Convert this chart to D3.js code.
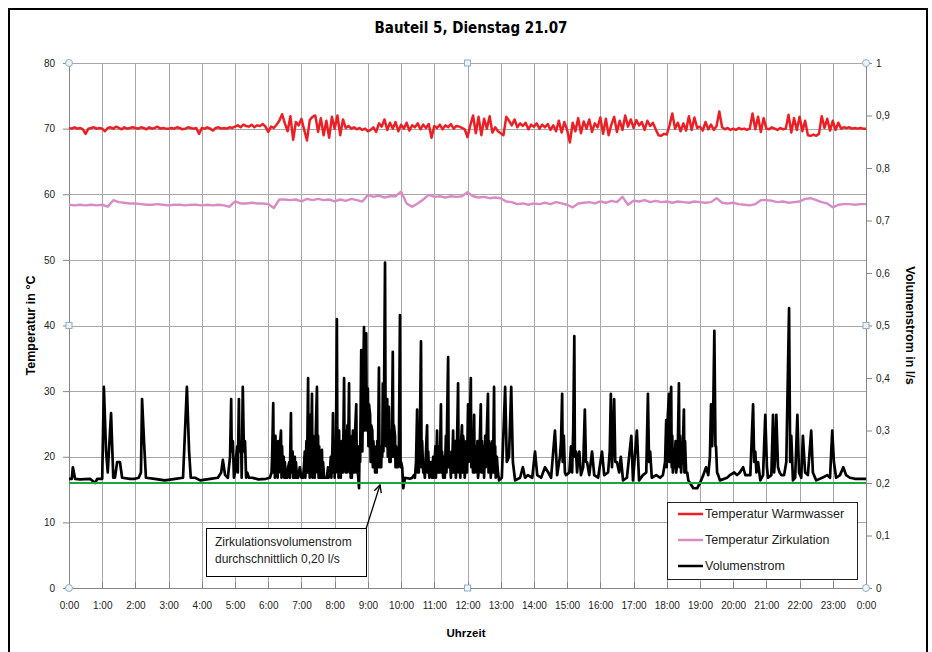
<!DOCTYPE html>
<html>
<head>
<meta charset="utf-8">
<script src="https://cdn.jsdelivr.net/npm/d3@7"></script>
<style>
  body { margin: 0; background: #fff; }
  text { font-family: "Liberation Sans", Arial, sans-serif; }
</style>
</head>
<body>
<div id="chart"></div>
<script>
// ---- data ----
const hourTicks = d3.range(0, 25);                 // 0:00 ... 0:00
const tempTicks = [0, 10, 20, 30, 40, 50, 60, 70, 80];
const flowTicks = [0, 0.1, 0.2, 0.3, 0.4, 0.5, 0.6, 0.7, 0.8, 0.9, 1];

// Temperatur Warmwasser, °C, every 5 min from 0:00 to 24:00
const warmwasser = [
  70.1, 70.0, 70.2, 70.0, 70.1, 69.9, 69.2, 70.0, 70.1, 70.2, 70.0, 70.1,
  70.0, 69.6, 70.1, 70.2, 70.0, 70.3, 70.1, 69.9, 70.2, 70.0, 70.1, 70.2,
  70.1, 70.0, 70.2, 70.1, 69.9, 70.2, 70.0, 70.1, 70.3, 70.0, 70.1, 70.0,
  70.0, 70.1, 70.0, 70.2, 70.1, 69.9, 70.0, 70.2, 70.1, 70.0, 70.1, 69.2,
  70.1, 70.0, 70.2, 70.0, 69.7, 70.1, 70.2, 70.0, 70.1, 70.0, 70.2, 70.1,
  70.3, 70.5, 70.2, 70.6, 70.4, 70.3, 70.6, 70.2, 70.5, 70.4, 70.7, 70.3,
  69.5, 70.3, 70.1, 70.6, 71.2, 72.2, 70.8, 69.6, 71.9, 68.3, 71.0, 70.5,
  71.5, 69.8, 68.2, 71.3, 71.8, 72.0, 69.5, 71.6, 69.0, 71.2, 68.6, 71.8,
  70.0, 72.0, 69.0, 71.4, 70.1, 70.4, 70.0, 70.2, 69.9, 70.1, 69.8, 70.0,
  69.6, 69.8, 70.2, 69.5, 70.8, 70.3, 71.4, 69.8, 70.9, 70.0, 71.0, 69.6,
  70.6, 70.0, 70.9, 69.7, 70.5, 70.2, 70.8, 69.9, 70.6, 70.1, 70.7, 68.6,
  70.4, 70.1, 70.6, 69.9, 70.5, 70.2, 70.7, 70.0, 70.4, 70.3, 70.1, 69.9,
  68.7, 70.5, 72.0, 69.3, 71.8, 69.0, 71.5, 70.0, 71.9, 69.4, 70.2, 69.6,
  69.3, 69.0, 71.8, 71.2, 70.5, 71.4, 70.2, 70.8, 70.4, 70.9, 69.9, 70.6,
  70.3, 70.8, 70.0, 70.6, 70.2, 70.7, 69.8, 70.5, 69.6, 71.2, 69.4, 71.0,
  69.8, 67.9, 70.9, 69.6, 71.6, 69.3, 71.1, 70.0, 71.4, 69.5, 70.8, 70.2,
  71.7, 69.2, 71.5, 69.0, 70.6, 71.8, 69.5, 71.2, 69.8, 72.0, 70.3, 71.4,
  70.1, 71.3, 70.5, 71.0, 69.8, 71.2, 70.4, 70.9, 69.9, 69.0, 68.9, 69.2,
  69.1, 70.5, 72.3, 70.0, 70.9, 69.6, 70.8, 69.7, 71.9, 69.8, 71.7, 70.1,
  70.3, 69.7, 71.0, 69.9, 70.6, 69.8, 70.4, 72.6, 70.2, 69.9, 70.1, 69.8,
  70.0, 69.8, 70.1, 69.9, 70.0, 69.8, 70.0, 72.3, 69.9, 71.8, 69.5, 71.6,
  70.0, 69.9, 70.2, 70.0, 69.8, 70.1, 69.9, 70.0, 72.1, 69.4, 71.6, 69.8,
  71.8, 69.6, 71.2, 69.0, 68.9, 69.1, 68.9, 69.2, 71.9, 70.1, 71.5, 69.7,
  71.2, 69.8, 70.9, 70.0, 70.2, 70.1, 70.2, 70.0, 70.1, 70.0, 70.1, 70.0,
  70.0
];

// Temperatur Zirkulation, °C, every 10 min from 0:00 to 24:00
const zirkulation = [
  58.4, 58.3, 58.4, 58.3, 58.4, 58.3,
  58.4, 58.1, 59.1, 58.8, 58.7, 58.6,
  58.6, 58.5, 58.4, 58.4, 58.5, 58.4,
  58.3, 58.4, 58.4, 58.3, 58.4, 58.4,
  58.3, 58.4, 58.3, 58.4, 58.3, 58.1,
  58.9, 58.6, 58.6, 58.7, 58.6, 58.6,
  58.5, 57.9, 59.2, 59.2, 59.1, 59.2,
  58.9, 59.3, 59.1, 59.3, 59.1, 59.2,
  58.9, 59.2, 59.0, 59.3, 59.1, 58.9,
  59.9, 59.6, 59.8, 59.5, 59.7, 59.7,
  60.4, 58.6, 58.1, 58.6, 59.2, 59.9,
  59.6, 59.7, 59.5, 59.7, 59.6, 59.7,
  60.3, 59.7, 59.5, 59.6, 59.4, 59.5,
  59.4, 58.9, 58.8, 58.5, 58.6, 58.4,
  58.6, 58.5, 58.7, 58.5, 58.8, 58.6,
  58.4, 58.0, 58.6, 58.7, 58.8, 58.6,
  58.9, 58.7, 59.0, 58.8, 59.6, 58.4,
  59.0, 58.9, 59.1, 58.8, 59.0, 58.8,
  58.9, 58.7, 58.9, 58.8, 58.7, 58.9,
  58.8, 58.7, 58.8, 59.4, 58.7, 58.6,
  58.7, 58.5, 58.4, 58.3, 58.5, 59.1,
  59.1, 59.0, 58.8, 58.9, 58.7, 58.8,
  58.9, 59.3, 59.4, 59.1, 58.8, 58.6,
  58.0, 58.4, 58.5, 58.5, 58.4, 58.5,
  58.5
];

// Volumenstrom, l/s, as [minute of day, value]
const volumenstrom = [
  [0, 0.208], [5, 0.208], [7, 0.23], [11, 0.208], [20, 0.207], [38, 0.208], [47, 0.20], [51, 0.208],
  [60, 0.208], [63, 0.383], [67, 0.26], [70, 0.22], [76, 0.333], [80, 0.21], [83, 0.21], [87, 0.24],
  [92, 0.24], [96, 0.21], [110, 0.208], [119, 0.208], [126, 0.21], [130, 0.22], [132, 0.36], [136, 0.27],
  [139, 0.21], [155, 0.208], [173, 0.205], [192, 0.208], [206, 0.21], [213, 0.383], [217, 0.26], [220, 0.21],
  [228, 0.21], [237, 0.205], [255, 0.208], [269, 0.21], [275, 0.22], [278, 0.244], [282, 0.215], [287, 0.21],
  [291, 0.25], [293, 0.36], [294, 0.26], [296, 0.28], [298, 0.21], [300, 0.22], [302, 0.25], [304, 0.27],
  [305, 0.22], [307, 0.36], [308, 0.26], [311, 0.28], [312, 0.21], [314, 0.383], [316, 0.26], [318, 0.28],
  [320, 0.21], [322, 0.22], [325, 0.21], [331, 0.21], [342, 0.207], [356, 0.208],
  // 6:00 - 10:00
  [363, 0.21], [366, 0.22], [367, 0.25], [369, 0.352], [370, 0.22], [371, 0.28], [372, 0.21], [373, 0.29],
  [374, 0.22], [376, 0.27], [377, 0.21], [378, 0.28], [379, 0.22], [381, 0.27], [383, 0.30], [384, 0.21],
  [385, 0.27], [386, 0.22], [388, 0.25], [389, 0.21], [390, 0.24], [392, 0.21], [394, 0.21], [396, 0.23],
  [398, 0.24], [399, 0.21], [401, 0.333], [402, 0.22], [404, 0.26], [405, 0.21], [406, 0.22], [408, 0.25],
  [409, 0.21], [410, 0.24], [412, 0.21], [414, 0.21], [417, 0.23], [420, 0.21],
  [423, 0.21], [425, 0.24], [426, 0.26], [427, 0.21], [429, 0.28], [430, 0.22], [432, 0.40], [433, 0.22],
  [434, 0.30], [435, 0.21], [436, 0.33], [437, 0.23], [439, 0.37], [440, 0.21], [441, 0.29], [442, 0.22],
  [443, 0.28], [444, 0.21], [446, 0.30], [448, 0.383], [449, 0.22], [450, 0.29], [451, 0.21], [452, 0.27],
  [453, 0.21], [454, 0.25], [455, 0.21], [457, 0.263], [458, 0.21], [459, 0.24], [461, 0.21], [463, 0.21],
  [466, 0.21], [468, 0.23], [469, 0.21], [472, 0.23], [473, 0.25], [474, 0.21], [476, 0.27], [477, 0.333],
  [478, 0.22], [479, 0.28], [480, 0.21],
  [481, 0.27], [482, 0.22], [484, 0.512], [485, 0.23], [486, 0.28], [487, 0.21], [488, 0.30], [489, 0.22],
  [490, 0.27], [491, 0.21], [492, 0.25], [493, 0.28], [495, 0.22], [497, 0.40], [498, 0.23], [499, 0.30],
  [500, 0.22], [501, 0.28], [502, 0.22], [503, 0.31], [504, 0.23], [506, 0.39], [507, 0.22], [508, 0.29],
  [509, 0.21], [510, 0.26], [511, 0.21], [513, 0.30], [514, 0.22], [515, 0.28], [516, 0.22], [517, 0.30],
  [519, 0.35], [520, 0.22], [521, 0.27], [522, 0.22], [524, 0.19], [525, 0.27], [526, 0.24], [528, 0.453],
  [529, 0.38], [530, 0.26], [531, 0.36], [533, 0.497], [534, 0.30], [535, 0.42], [537, 0.485], [538, 0.30],
  [540, 0.38],
  [541, 0.27], [542, 0.35], [544, 0.33], [545, 0.24], [546, 0.31], [548, 0.30], [549, 0.23], [550, 0.28],
  [551, 0.23], [552, 0.27], [553, 0.22], [555, 0.23], [556, 0.22], [557, 0.28], [558, 0.23], [560, 0.42],
  [561, 0.24], [562, 0.23], [564, 0.23], [565, 0.27], [566, 0.25], [567, 0.39], [568, 0.26], [569, 0.34],
  [571, 0.62], [572, 0.30], [573, 0.27], [575, 0.36], [576, 0.25], [577, 0.31], [578, 0.345], [579, 0.24],
  [580, 0.30], [581, 0.24], [582, 0.30], [583, 0.25], [585, 0.45], [586, 0.25], [587, 0.31], [589, 0.29],
  [590, 0.23], [591, 0.27], [593, 0.23], [594, 0.23], [596, 0.26], [598, 0.52], [599, 0.23], [600, 0.24],
  [602, 0.23], [604, 0.19], [607, 0.21],
  // 10:00 - 13:00
  [616, 0.208], [620, 0.21], [623, 0.215], [625, 0.21], [627, 0.24], [629, 0.34], [630, 0.22], [631, 0.27],
  [632, 0.22], [634, 0.30], [636, 0.47], [637, 0.23], [638, 0.28], [640, 0.22], [641, 0.23], [643, 0.21],
  [645, 0.26], [647, 0.31], [648, 0.22], [649, 0.26], [651, 0.21], [652, 0.22], [654, 0.24], [656, 0.21],
  [658, 0.25], [659, 0.21], [661, 0.25], [662, 0.27], [663, 0.21], [665, 0.30], [666, 0.22], [667, 0.27],
  [669, 0.22], [670, 0.23], [672, 0.35], [673, 0.22], [674, 0.26], [676, 0.21], [677, 0.25], [679, 0.21],
  [681, 0.29], [682, 0.22], [683, 0.31], [685, 0.44], [686, 0.23], [687, 0.23], [688, 0.25], [690, 0.21],
  [691, 0.26], [692, 0.22], [694, 0.30], [695, 0.22], [697, 0.25], [698, 0.28], [699, 0.21], [701, 0.27],
  [703, 0.39], [704, 0.22], [705, 0.28], [707, 0.21], [708, 0.27], [710, 0.31], [711, 0.22], [712, 0.29],
  [714, 0.27], [715, 0.21], [717, 0.25], [718, 0.28], [719, 0.22], [721, 0.35], [722, 0.24], [724, 0.30],
  [726, 0.40], [727, 0.23], [728, 0.29], [730, 0.22], [732, 0.33], [733, 0.22], [735, 0.27], [737, 0.22],
  [738, 0.28], [739, 0.21], [741, 0.23], [742, 0.27], [744, 0.35], [745, 0.22], [746, 0.28], [748, 0.22],
  [749, 0.27], [750, 0.21], [752, 0.29], [753, 0.23], [755, 0.30], [757, 0.37], [758, 0.22], [759, 0.28],
  [761, 0.27], [762, 0.21], [764, 0.25], [765, 0.28], [766, 0.22], [768, 0.383], [769, 0.22], [770, 0.27],
  [771, 0.21], [773, 0.25], [775, 0.22], [777, 0.205], [782, 0.21],
  // 13:00 - 24:00
  [788, 0.383], [791, 0.24], [795, 0.25], [799, 0.383], [802, 0.24], [806, 0.205], [815, 0.21], [820, 0.23],
  [824, 0.21], [829, 0.215], [837, 0.21], [842, 0.26], [846, 0.215], [853, 0.21], [860, 0.23], [866, 0.22],
  [871, 0.21], [878, 0.30], [882, 0.215], [887, 0.25], [889, 0.28], [891, 0.37], [892, 0.24], [894, 0.29],
  [896, 0.22], [898, 0.215], [904, 0.22], [907, 0.27], [909, 0.22], [911, 0.30], [913, 0.48], [914, 0.25],
  [916, 0.26], [918, 0.22], [920, 0.25], [922, 0.26], [925, 0.215], [929, 0.23], [932, 0.34], [934, 0.24],
  [936, 0.24], [940, 0.215], [945, 0.26], [949, 0.215], [956, 0.21], [963, 0.26], [967, 0.215], [974, 0.22],
  [977, 0.26], [979, 0.37], [981, 0.23], [983, 0.28], [985, 0.36], [987, 0.24], [990, 0.24], [994, 0.22],
  [997, 0.25], [1001, 0.205], [1008, 0.21], [1016, 0.29], [1019, 0.205], [1026, 0.30], [1030, 0.205], [1037, 0.215],
  [1043, 0.22], [1046, 0.37], [1048, 0.24], [1050, 0.26], [1053, 0.21], [1061, 0.215], [1068, 0.21], [1073, 0.215],
  [1077, 0.24], [1079, 0.32], [1080, 0.23], [1082, 0.33], [1084, 0.37], [1085, 0.24], [1086, 0.31], [1088, 0.383],
  [1089, 0.23], [1090, 0.29], [1091, 0.22], [1093, 0.24], [1095, 0.26], [1096, 0.28], [1097, 0.22], [1099, 0.24],
  [1100, 0.27], [1102, 0.39], [1103, 0.23], [1104, 0.29], [1106, 0.22], [1107, 0.24], [1109, 0.27], [1111, 0.34],
  [1112, 0.22], [1113, 0.28], [1115, 0.22], [1117, 0.22], [1119, 0.205], [1122, 0.20], [1128, 0.19],
  [1135, 0.19], [1140, 0.20], [1146, 0.215], [1151, 0.23], [1155, 0.215], [1158, 0.25], [1160, 0.35], [1162, 0.27],
  [1164, 0.34], [1166, 0.49], [1168, 0.27], [1169, 0.27], [1171, 0.22], [1173, 0.215], [1176, 0.205], [1189, 0.21],
  [1194, 0.215], [1202, 0.22], [1207, 0.215], [1212, 0.22], [1218, 0.23], [1222, 0.215], [1231, 0.215], [1236, 0.35],
  [1238, 0.24], [1240, 0.26], [1242, 0.22], [1245, 0.24], [1249, 0.205], [1254, 0.215], [1258, 0.33], [1261, 0.23],
  [1263, 0.21], [1269, 0.215], [1272, 0.33], [1274, 0.22], [1276, 0.25], [1278, 0.33], [1281, 0.23], [1284, 0.22],
  [1287, 0.215], [1292, 0.215], [1296, 0.24], [1301, 0.533], [1303, 0.24], [1305, 0.29], [1308, 0.205], [1312, 0.21],
  [1316, 0.33], [1319, 0.22], [1323, 0.21], [1326, 0.29], [1330, 0.22], [1335, 0.215], [1341, 0.30], [1344, 0.22],
  [1350, 0.205], [1361, 0.21], [1370, 0.215], [1375, 0.21], [1379, 0.30], [1382, 0.24], [1386, 0.21], [1393, 0.215],
  [1399, 0.23], [1404, 0.215], [1411, 0.21], [1420, 0.208], [1440, 0.208]
];

const zirkulationsMittel = 0.20;   // l/s, green reference line

const seriesNames = ["Temperatur Warmwasser", "Temperatur Zirkulation", "Volumenstrom"];
const seriesColors = ["#ee1f24", "#d98bc6", "#000000"];

// ---- chart ----
const W = 932, H = 652;
const plot = { left: 69, right: 866, top: 63, bottom: 588 };

const svg = d3.select("#chart").append("svg")
    .attr("width", W)
    .attr("height", H);

// chart frame
svg.append("rect")
    .attr("x", 9).attr("y", 9)
    .attr("width", W - 14).attr("height", H)
    .attr("fill", "#fff")
    .attr("stroke", "#000")
    .attr("stroke-width", 2);

const x = d3.scaleLinear().domain([0, 24 * 60]).range([plot.left, plot.right]);
const yTemp = d3.scaleLinear().domain([0, 80]).range([plot.bottom, plot.top]);
const yFlow = d3.scaleLinear().domain([0, 1]).range([plot.bottom, plot.top]);

// gridlines
svg.append("g").selectAll("line")
    .data(hourTicks.slice(1, -1))
    .enter().append("line")
    .attr("x1", d => Math.round(x(d * 60)) + 0.5)
    .attr("x2", d => Math.round(x(d * 60)) + 0.5)
    .attr("y1", plot.top).attr("y2", plot.bottom)
    .attr("stroke", "#a8a8a8");

svg.append("g").selectAll("line")
    .data(tempTicks.slice(1))
    .enter().append("line")
    .attr("x1", plot.left).attr("x2", plot.right)
    .attr("y1", d => Math.round(yTemp(d)) + 0.5)
    .attr("y2", d => Math.round(yTemp(d)) + 0.5)
    .attr("stroke", "#a8a8a8");

// axes
const fmtHour = h => (h % 24) + ":00";
const fmtFlow = v => v === 0 ? "0" : v === 1 ? "1" : d3.format(".1f")(v).replace(".", ",");

const xAxis = svg.append("g")
    .attr("transform", `translate(0,${plot.bottom})`)
    .call(d3.axisBottom(x).tickValues(hourTicks.map(h => h * 60))
        .tickFormat(m => fmtHour(m / 60)).tickSize(0).tickPadding(14));

const yAxisL = svg.append("g")
    .attr("transform", `translate(${plot.left},0)`)
    .call(d3.axisLeft(yTemp).tickValues(tempTicks).tickSize(6).tickSizeOuter(0).tickPadding(8));

const yAxisR = svg.append("g")
    .attr("transform", `translate(${plot.right},0)`)
    .call(d3.axisRight(yFlow).tickValues(flowTicks).tickFormat(fmtFlow)
        .tickSize(6).tickSizeOuter(0).tickPadding(4));

// inner hour tick marks on the bottom axis
svg.append("g").selectAll("line")
    .data(hourTicks)
    .enter().append("line")
    .attr("x1", d => Math.round(x(d * 60)) + 0.5)
    .attr("x2", d => Math.round(x(d * 60)) + 0.5)
    .attr("y1", plot.bottom - 6).attr("y2", plot.bottom)
    .attr("stroke", "#868686");

[xAxis, yAxisL, yAxisR].forEach(g => {
    g.select(".domain").attr("stroke", "#868686");
    g.selectAll(".tick line").attr("stroke", "#868686");
    g.selectAll(".tick text")
        .attr("fill", "#222")
        .style("font-size", "10px")
        .style("font-family", "'Liberation Sans', Arial, sans-serif");
});

// series
svg.append("path")
    .datum(warmwasser)
    .attr("d", d3.line().x((d, i) => x(i * 5)).y(d => yTemp(d)))
    .attr("fill", "none")
    .attr("stroke", seriesColors[0])
    .attr("stroke-width", 2.5)
    .attr("stroke-linejoin", "round");

svg.append("path")
    .datum(zirkulation)
    .attr("d", d3.line().x((d, i) => x(i * 10)).y(d => yTemp(d)))
    .attr("fill", "none")
    .attr("stroke", seriesColors[1])
    .attr("stroke-width", 2.4)
    .attr("stroke-linejoin", "round");

svg.append("path")
    .datum(volumenstrom)
    .attr("d", d3.line().x(d => x(d[0])).y(d => yFlow(d[1])))
    .attr("fill", "none")
    .attr("stroke", seriesColors[2])
    .attr("stroke-width", 2.7)
    .attr("stroke-linejoin", "round");

svg.append("line")
    .attr("x1", plot.left).attr("x2", plot.right)
    .attr("y1", yFlow(zirkulationsMittel)).attr("y2", yFlow(zirkulationsMittel))
    .attr("stroke", "#1fa33a")
    .attr("stroke-width", 2);

// plot-area handles
const handles = [
    [plot.left, plot.top, "c"], [(plot.left + plot.right) / 2, plot.top, "s"], [plot.right, plot.top, "c"],
    [plot.left, (plot.top + plot.bottom) / 2, "s"], [plot.right, (plot.top + plot.bottom) / 2, "s"],
    [plot.left, plot.bottom, "c"], [(plot.left + plot.right) / 2, plot.bottom, "s"], [plot.right, plot.bottom, "c"]
];
handles.forEach(([hx, hy, t]) => {
    if (t === "c") {
        svg.append("circle").attr("cx", hx).attr("cy", hy).attr("r", 3.5)
            .attr("fill", "#eef4fa").attr("stroke", "#8eaecb");
    } else {
        svg.append("rect").attr("x", hx - 3).attr("y", hy - 3).attr("width", 6).attr("height", 6)
            .attr("fill", "#eef4fa").attr("stroke", "#8eaecb");
    }
});

// title + axis labels
svg.append("text")
    .attr("x", 471).attr("y", 33)
    .attr("text-anchor", "middle")
    .style("font-family", "'Liberation Sans Narrow', 'DejaVu Sans Condensed', sans-serif")
    .style("font-size", "15px")
    .style("font-weight", "bold")
    .text("Bauteil 5, Dienstag 21.07");

svg.append("text")
    .attr("x", 466).attr("y", 637)
    .attr("text-anchor", "middle")
    .style("font-size", "11.5px")
    .style("font-weight", "bold")
    .text("Uhrzeit");

svg.append("text")
    .attr("transform", `translate(35,${(plot.top + plot.bottom) / 2}) rotate(-90)`)
    .attr("text-anchor", "middle")
    .style("font-size", "12.5px")
    .style("font-weight", "bold")
    .text("Temperatur in °C");

svg.append("text")
    .attr("transform", `translate(906,${(plot.top + plot.bottom) / 2}) rotate(90)`)
    .attr("text-anchor", "middle")
    .style("font-size", "12.5px")
    .style("font-weight", "bold")
    .text("Volumenstrom in l/s");

// annotation
const note = svg.append("g");
note.append("rect")
    .attr("x", 206.5).attr("y", 528.5).attr("width", 160).attr("height", 48)
    .attr("fill", "#fff").attr("stroke", "#000");
note.selectAll("text")
    .data(["Zirkulationsvolumenstrom", "durchschnittlich 0,20 l/s"])
    .enter().append("text")
    .attr("x", 215).attr("y", (d, i) => 546 + i * 17)
    .style("font-size", "12px")
    .attr("fill", "#222")
    .text(d => d);

svg.append("defs").append("marker")
    .attr("id", "arrow")
    .attr("viewBox", "0 0 10 10")
    .attr("refX", 9).attr("refY", 5)
    .attr("markerWidth", 7).attr("markerHeight", 7)
    .attr("orient", "auto")
    .append("path")
    .attr("d", "M1,1 L9,5 L1,9")
    .attr("fill", "none")
    .attr("stroke", "#000")
    .attr("stroke-width", 1.5);

svg.append("line")
    .attr("x1", 366).attr("y1", 529)
    .attr("x2", 380).attr("y2", 485)
    .attr("stroke", "#000")
    .attr("stroke-width", 1.3)
    .attr("marker-end", "url(#arrow)");

// legend
const legend = svg.append("g");
legend.append("rect")
    .attr("x", 667.5).attr("y", 502.5).attr("width", 190).attr("height", 77)
    .attr("fill", "#fff").attr("stroke", "#222");
seriesNames.forEach((name, i) => {
    const ly = 514 + i * 26;
    legend.append("line")
        .attr("x1", 678).attr("x2", 703)
        .attr("y1", ly).attr("y2", ly)
        .attr("stroke", seriesColors[i])
        .attr("stroke-width", 2.5);
    legend.append("text")
        .attr("x", 705).attr("y", ly + 4)
        .style("font-size", "12.5px")
        .attr("fill", "#222")
        .text(name);
});
</script>
</body>
</html>
